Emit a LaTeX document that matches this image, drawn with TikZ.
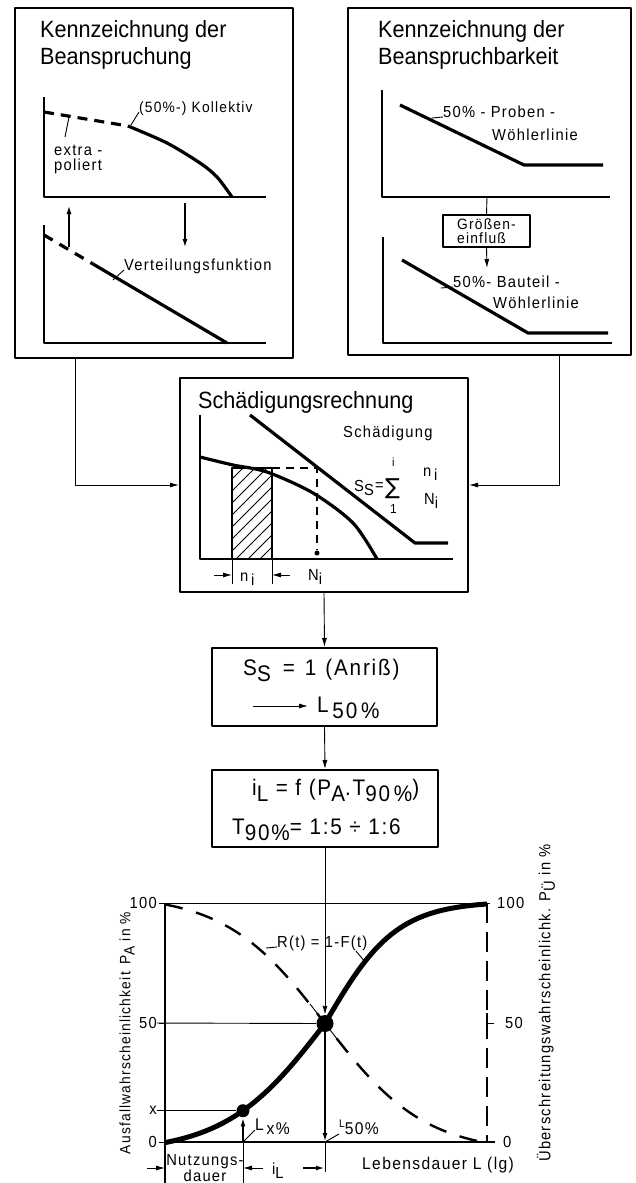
\documentclass[tikz,border=0pt]{standalone}
\usepackage{fontspec}
\setmainfont{Liberation Sans}[FakeStretch=0.92]
\newfontfamily\weit{Liberation Sans}[FakeStretch=0.92, LetterSpace=8]
\newfontfamily\symb{DejaVu Sans}
\usetikzlibrary{arrows.meta}
\newcommand*\tief[1]{\raisebox{-0.55ex}{#1}}
\newcommand*\hoch[1]{\raisebox{0.7ex}{#1}}

\begin{document}
\begin{tikzpicture}[x=1pt, y=-1pt, >={Latex[length=9pt,width=5pt]}, line join=round,
	box/.style={draw, line width=2pt, inner sep=0pt},
	ax/.style={line width=1.8pt},
	crv/.style={line width=3.2pt},
	ldr/.style={line width=0.9pt},
	ttl/.style={font=\fontsize{23.5}{27}\selectfont, align=left, anchor=north west, inner sep=0pt},
	lbl/.style={font=\weit\fontsize{16}{17}\selectfont, anchor=base west, inner sep=0pt},
	zahl/.style={font=\weit\fontsize{16}{18}\selectfont, inner sep=0pt},
	txt/.style={font=\weit\fontsize{22.5}{24}\selectfont, anchor=base west, inner sep=0pt}]
	\useasboundingbox (0,0) rectangle (635,1183);

	% Beanspruchung
	\node[box, minimum width=278pt, minimum height=350pt] (beanspr) at (154,183) {};
	\node[ttl] (beansprtitel) at (40,20) {Kennzeichnung der\\Beanspruchung};
	\draw[ax] (44,97) -- (44,197) -- (266,197);
	\draw[crv, dash pattern=on 10pt off 7pt] (44,112) -- (128,126);
	\draw[crv] plot[smooth] coordinates {(128,126) (167,143) (200,163) (217,177) (232,197)};
	\node[lbl, font=\weit\fontsize{15}{17}\selectfont] (kollektiv) at (139,112) {(50\%-) Kollektiv};
	\draw[ldr] (131,125) -- (kollektiv.base west);
	\node[lbl, align=left, anchor=north west, font=\weit\fontsize{16}{15}\selectfont] (extra) at (54,145) {extra -\\poliert};
	\draw[ldr] (69,117) -- (65,137);
	\draw[ax, ->] (69,247) -- (69,205);
	\draw[ax, ->] (185,203) -- (185,248);
	\draw[ax] (44,225) -- (44,343) -- (266,343);
	\draw[crv, dash pattern=on 10pt off 8pt] (44,235) -- (93,264);
	\draw[crv] (93,264) -- (227,343);
	\node[lbl] (verteilung) at (124,270) {Verteilungsfunktion};
	\draw[ldr] (113,280) -- (verteilung.base west);

	% Beanspruchbarkeit
	\node[box, minimum width=283pt, minimum height=347pt] (beansprb) at (489.5,181.5) {};
	\node[ttl] (beansprbtitel) at (378,20) {Kennzeichnung der\\Beanspruchbarkeit};
	\draw[ax] (382,90) -- (382,197) -- (610,197);
	\draw[crv] (400,105) -- (524,165) -- (603,165);
	\node[lbl] (proben) at (443,117) {50\% - Proben -};
	\node[lbl] (woehlerA) at (492,140) {Wöhlerlinie};
	\draw[ldr] (432,118) -- (proben.base west);
	\coordinate (probenfuss) at (487,197);
	\node[box, line width=1.4pt, minimum width=87pt, minimum height=32pt, align=left,
		font=\weit\fontsize{15}{14}\selectfont] (groesse) at (486.5,231) {Größen-\\einfluß};
	\coordinate (bauteilkopf) at (487,268);
	\draw[ldr] (probenfuss) -- (groesse.north);
	\draw[ldr, ->] (groesse.south) -- (bauteilkopf);
	\draw[ax] (383,237) -- (383,343) -- (612,343);
	\draw[crv] (402,260) -- (528,333) -- (608,333);
	\node[lbl] (bauteil) at (453,287) {50\%- Bauteil -};
	\node[lbl] (woehlerB) at (493,308) {Wöhlerlinie};
	\draw[ldr] (441,288) -- (bauteil.base west);

	% Schaedigungsrechnung
	\node[box, minimum width=288pt, minimum height=214pt] (schad) at (324,485) {};
	\node[ttl, anchor=base west] (schadtitel) at (198,408) {Schädigungsrechnung};
	\coordinate (links) at (75,358);
	\coordinate (rechts) at (559,355);
	\draw[ldr, ->] (links) |- (schad.west);
	\draw[ldr, ->] (rechts) |- (schad.east);
	\begin{scope}
		\clip (232,468) rectangle (272,559);
		\foreach \s in {0,...,12} {
			\draw[ldr] (140+\s*12,559) -- ++(100,-100);
		}
	\end{scope}
	\draw[ax] (232,468) rectangle (272,559);
	\draw[ax] (200,415) -- (200,559) -- (453,559);
	\draw[crv] plot[smooth] coordinates {(200,457) (233,465) (267,472) (313,493) (353,523) (377,559)};
	\draw[crv] (250,415) -- (415,543) -- (448,543);
	\draw[ax, dash pattern=on 8pt off 6pt] (272,468) -- (317,468) -- (317,550);
	\fill (317,553) circle (2.5pt);
	\draw[ldr] (232,559) -- (232,584);
	\draw[ldr] (272,559) -- (272,584);
	\draw[ldr, ->] (214,575) -- (232,575);
	\draw[ldr, ->] (290,575) -- (272,575);
	\node[lbl] (nklein) at (240,581) {n\tief{\,i}};
	\node[lbl] (ngross) at (308,580) {N\tief{i}};
	\node[lbl] (schaedigung) at (343,437) {Schädigung};
	\node[lbl] (formelS) at (354,491) {S\tief{S}};
	\node[lbl] (gleich) at (375,490) {=};
	\node[lbl, font=\symb\fontsize{22}{23}\selectfont] (summe) at (385,494) {∑};
	\node[lbl, font=\weit\fontsize{12}{12}\selectfont] (sumoben) at (392,466) {i};
	\node[lbl, font=\weit\fontsize{13}{13}\selectfont] (sumunten) at (390,513) {1};
	\node[lbl] (zaehler) at (423,476) {n\tief{\,i}};
	\node[lbl] (nenner) at (424,504) {N\tief{i}};

	% Anriss
	\node[box, minimum width=225pt, minimum height=78pt] (anriss) at (324.5,687) {};
	\draw[ldr, ->] (schad.south) -- (anriss.north);
	\node[txt] (ssanriss) at (243,675) {S\tief{S}\hspace{12pt}=\hspace{10pt}1\hspace{9pt}(Anriß)};
	\node[txt] (lfuenfzig) at (317,712) {L\,\tief{50\,\%}};
	\coordinate (pfeilA) at (253,706);
	\coordinate (pfeilB) at (308,706);
	\draw[ldr, ->] (pfeilA) -- (pfeilB);

	% Streuung
	\node[box, minimum width=226pt, minimum height=77pt] (streu) at (325,808.5) {};
	\draw[ldr, ->] (anriss.south) -- (streu.north);
	\node[txt] (iformel) at (252,795) {i\tief{L}\ = f (P\tief{A}.T\tief{90\,\%})};
	\node[txt] (tformel) at (232,834) {T\tief{90\%}= 1:5 ÷ 1:6};

	% Lebensdauerverteilung
	\draw[ax] (165,903) -- (165,1183);
	\draw[ldr] (165,903) -- (490,903);
	\draw[ax] (165,1142) -- (495,1142);
	\draw[ax, dash pattern=on 20pt off 9pt] (487,903) -- (487,1142);
	\draw[ax] (487,1013) -- (487,1033);
	\draw[ldr] (487,1023) -- (494,1023);
	\foreach \y/\t in {903/100, 1023/50, 1110.7/x, 1142/0} {
		\draw[ldr] (159,\y) -- (165,\y);
		\node[zahl, anchor=east] (links\t) at (157,\y) {\t};
	}
	\node[zahl, anchor=west] (rechts100) at (497,903) {100};
	\node[zahl, anchor=west] (rechts50) at (505,1023) {50};
	\node[zahl, anchor=west] (rechts0) at (503,1142) {0};
	\draw[crv, line width=2.4pt, dash pattern=on 18pt off 14pt] plot[domain=165:487, samples=60]
		(\x, {1023.5+119.5*tanh(0.01*(\x-325))/0.9246});
	\draw[crv, line width=5pt] plot[domain=165:325, samples=40]
		(\x, {1023.5-119.5*tanh(0.01*(\x-325))/0.9246});
	\draw[crv, line width=5pt] plot[domain=325:487, samples=40]
		(\x, {1023.5-119.5*tanh(0.014*(\x-325))/0.9787});
	\node[circle, fill, inner sep=0pt, minimum size=17pt] (p50) at (325,1023.5) {};
	\node[circle, fill, inner sep=0pt, minimum size=13pt] (px) at (243,1110.7) {};
	\draw[ldr] (links50) -- (p50);
	\draw[ldr] (linksx) -- (px);
	\draw[ldr] (310,1004) -- (341,1044);
	\draw[ldr, ->] (streu.south) -- (p50.north);
	\coordinate (lfuenfzigfuss) at (325,1142);
	\coordinate (lxfuss) at (243,1142);
	\draw[ax, ->] (p50.south) -- (lfuenfzigfuss);
	\draw[ax, ->] (lxfuss) -- (px.south);
	\draw[ldr] (243,1142) -- (243,1183);
	\draw[ldr] (325,1142) -- (325,1172);
	\node[lbl, font=\weit\fontsize{17}{18}\selectfont] (lx) at (255,1130) {L\tief{\,x\%}};
	\draw[ldr] (lxfuss) -- (lx.base west);
	\node[lbl, font=\weit\fontsize{17}{18}\selectfont] (lfuenfzigb) at (339,1134) {\hoch{\fontsize{11}{12}\selectfont L}50\%};
	\draw[ldr] (lfuenfzigfuss) -- (lfuenfzigb.base west);
	\node[lbl] (rt) at (277,947) {R(t) = 1-F(t)};
	\draw[ldr] (266,948) -- (rt.base west);
	\draw[ldr] (356,951) -- (366,963);
	\node[font=\weit\fontsize{15}{17}\selectfont, rotate=90, inner sep=0pt] (pa) at (127,1033)
		{Ausfallwahrscheinlichkeit \,P\tief{A} in \%};
	\node[font=\weit\fontsize{16}{17}\selectfont, rotate=90, inner sep=0pt] (pue) at (546,1003)
		{Überschreitungswahrscheinlichk. P\tief{Ü} in \%};
	\draw[ldr, ->] (147,1168) -- (165,1168);
	\draw[ldr, ->] (263,1168) -- (243,1168);
	\draw[ax, ->] (303,1168) -- (325,1168);
	\node[lbl, align=center, anchor=north, font=\weit\fontsize{16}{16}\selectfont] (nutzung) at (205,1154) {Nutzungs-\\dauer};
	\node[lbl] (il) at (272,1174) {i\tief{L}};
	\node[lbl, font=\weit\fontsize{17}{18}\selectfont] (lebensdauer) at (362,1169) {Lebensdauer L (lg)};
\end{tikzpicture}
\end{document}
